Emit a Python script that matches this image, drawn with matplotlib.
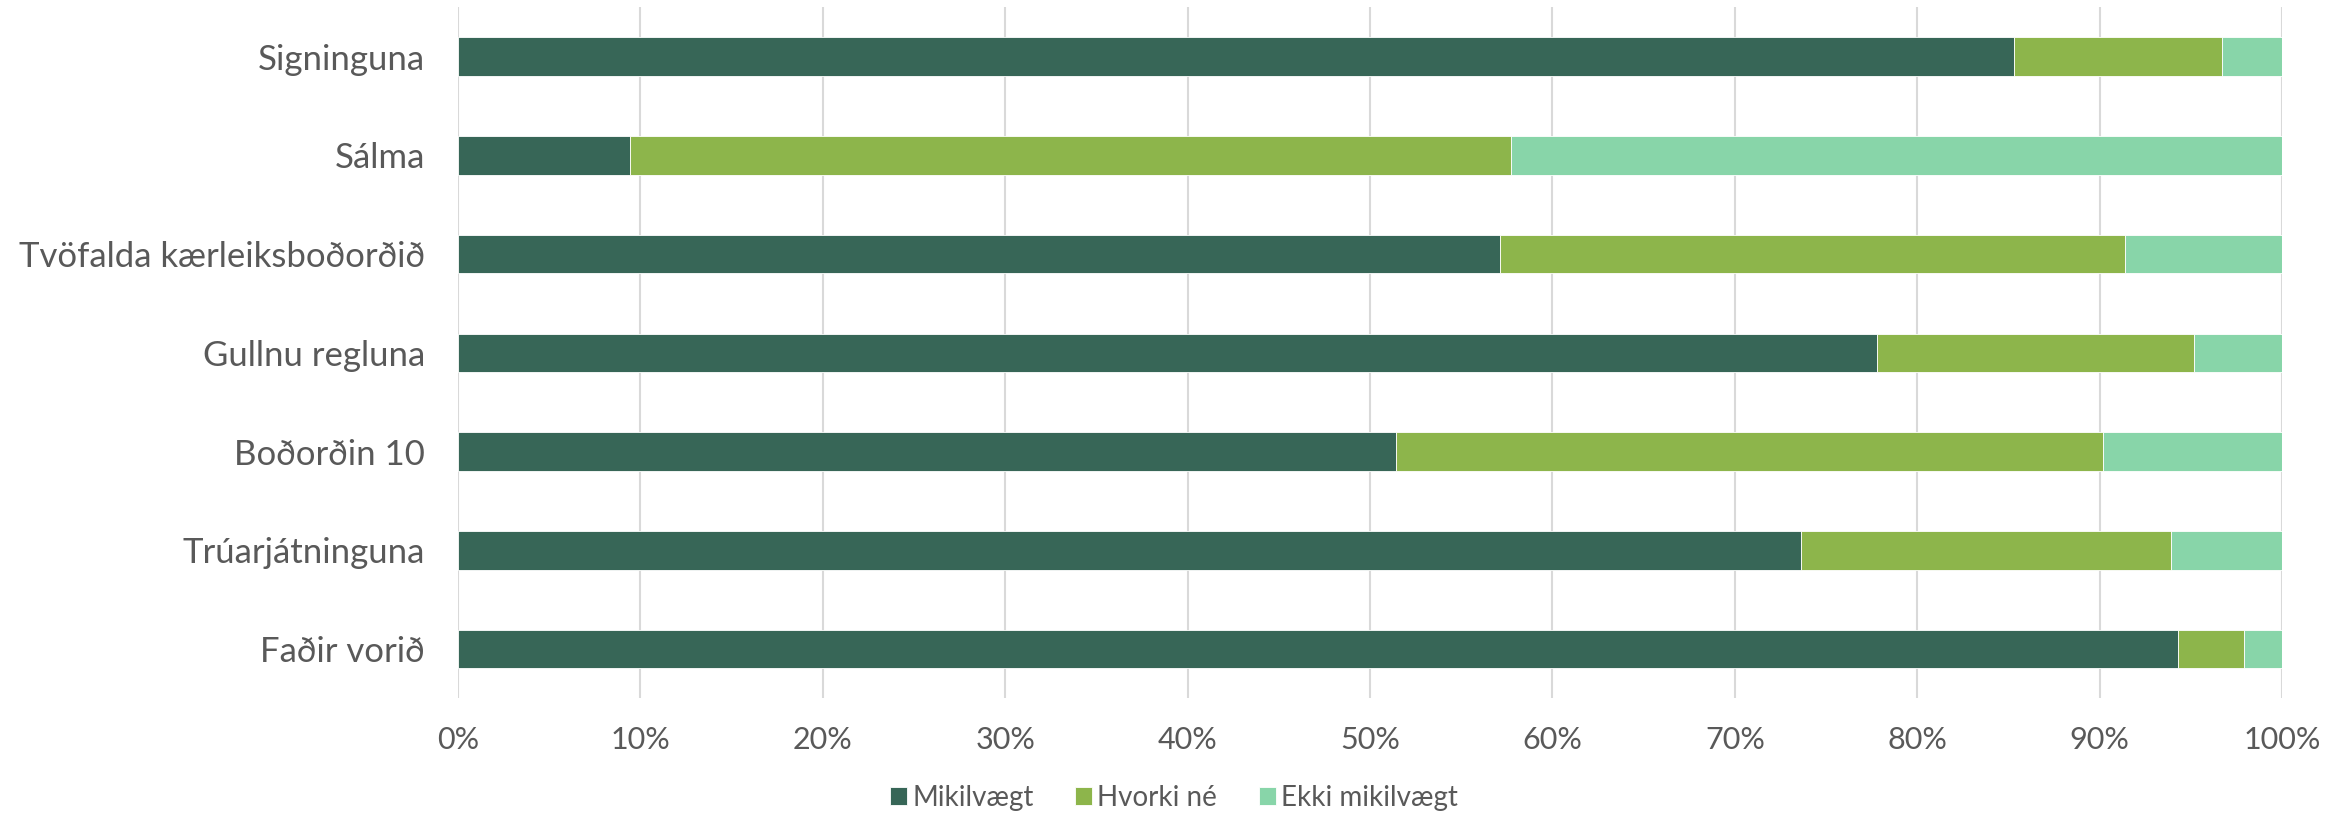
import numpy as np
import matplotlib.pyplot as plt

# data (percent)
categories = ["Signinguna", "Sálma", "Tvöfalda kærleiksboðorðið", "Gullnu regluna",
              "Boðorðin 10", "Trúarjátninguna", "Faðir vorið"]
mikilvaegt = [85.3, 9.4, 57.1, 77.8, 51.4, 73.6, 94.3]
hvorki_ne = [11.4, 48.3, 34.3, 17.4, 38.8, 20.3, 3.6]
ekki_mikilvaegt = [3.3, 42.3, 8.6, 4.8, 9.8, 6.1, 2.1]
series_names = ["Mikilvægt", "Hvorki né", "Ekki mikilvægt"]
colors = ["#376657", "#8DB54B", "#88D5A9"]

plt.rcParams['font.family'] = ['Lato', 'DejaVu Sans']
text_color = "#595959"

fig = plt.figure(figsize=(23.48, 8.16), dpi=100)
ax = fig.add_axes([0.1951, 0.144, 0.7768, 0.847])

y = np.arange(len(categories))[::-1]
left = np.zeros(len(categories))
for vals, name, c in zip([mikilvaegt, hvorki_ne, ekki_mikilvaegt], series_names, colors):
    vals = np.array(vals)
    ax.barh(y, vals, left=left, height=0.39, color=c, label=name,
            edgecolor="white", linewidth=0.6, zorder=3)
    left += vals

ax.set_xlim(0, 100)
ax.set_ylim(-0.5, len(categories) - 0.5)
ax.set_xticks(np.arange(0, 101, 10))
ax.set_xticklabels([f"{v}%" for v in range(0, 101, 10)])
ax.set_yticks(y)
ax.set_yticklabels(categories)
ax.tick_params(axis='x', length=0, pad=20, labelsize=22, labelcolor=text_color)
ax.tick_params(axis='y', length=0, pad=24, labelsize=25, labelcolor=text_color)
ax.grid(axis='x', color="#d9d9d9", linewidth=1.5, zorder=0)
for s in ax.spines.values():
    s.set_visible(False)

leg = fig.legend(loc='center', bbox_to_anchor=(0.5, 0.022), ncol=3, frameon=False,
                 fontsize=20, handlelength=0.6, handleheight=0.6, handletextpad=0.2,
                 columnspacing=1.5, labelcolor=text_color)

fig.savefig("out.png", dpi=100)
